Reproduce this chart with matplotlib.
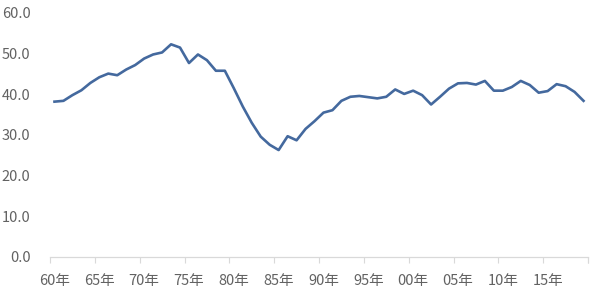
import numpy as np
import matplotlib
matplotlib.use('Agg')
import matplotlib.pyplot as plt
from matplotlib.ticker import FixedLocator, FixedFormatter

# 年 (1960-2019)
years = list(range(1960, 2020))
# 値
values = [
    38.2, 38.4, 39.8, 41.0, 42.8, 44.2, 45.1, 44.7, 46.1, 47.2,
    48.8, 49.8, 50.3, 52.3, 51.5, 47.7, 49.8, 48.4, 45.8, 45.8,
    41.5, 37.0, 33.0, 29.6, 27.6, 26.3, 29.7, 28.7, 31.5, 33.4,
    35.5, 36.1, 38.4, 39.4, 39.6, 39.3, 39.0, 39.4, 41.2, 40.1,
    40.9, 39.8, 37.5, 39.4, 41.4, 42.7, 42.8, 42.4, 43.3, 40.9,
    40.9, 41.8, 43.3, 42.3, 40.4, 40.8, 42.5, 42.0, 40.6, 38.4,
]
# 目盛りラベル
x_labels = ['60年', '65年', '70年', '75年', '80年', '85年',
            '90年', '95年', '00年', '05年', '10年', '15年']
y_ticks = [0, 10, 20, 30, 40, 50, 60]

plt.rcParams['font.family'] = ['Noto Sans CJK JP', 'DejaVu Sans']

fig = plt.figure(figsize=(6, 3), dpi=100)
ax = fig.add_axes([50 / 600, 43 / 300, 538 / 600, 244 / 300])

x = np.arange(len(years))
ax.plot(x, values, color='#44699E', linewidth=1.9, solid_joinstyle='round')

ax.set_xlim(-0.5, len(years) - 0.5)
ax.set_ylim(0, 60)

# 縦軸
ax.set_yticks(y_ticks)
ax.set_yticklabels(['%.1f' % v for v in y_ticks])
ax.tick_params(axis='y', length=0, pad=14, labelsize=10.5, labelcolor='#626262')

# 横軸 (ラベルは区間の中央、目盛り線は区間の境目)
ax.xaxis.set_major_locator(FixedLocator(np.arange(0, len(years), 5)))
ax.xaxis.set_major_formatter(FixedFormatter(x_labels))
ax.xaxis.set_minor_locator(FixedLocator(np.append(np.arange(-0.5, len(years), 5), len(years) - 0.5)))
ax.tick_params(axis='x', which='major', length=0, pad=12, labelsize=10.5, labelcolor='#626262')
ax.tick_params(axis='x', which='minor', length=4, width=0.8, color='#d9d9d9')

for side in ['top', 'right', 'left']:
    ax.spines[side].set_visible(False)
ax.spines['bottom'].set_color('#d9d9d9')
ax.spines['bottom'].set_linewidth(0.9)

fig.savefig('out.png', dpi=100)
